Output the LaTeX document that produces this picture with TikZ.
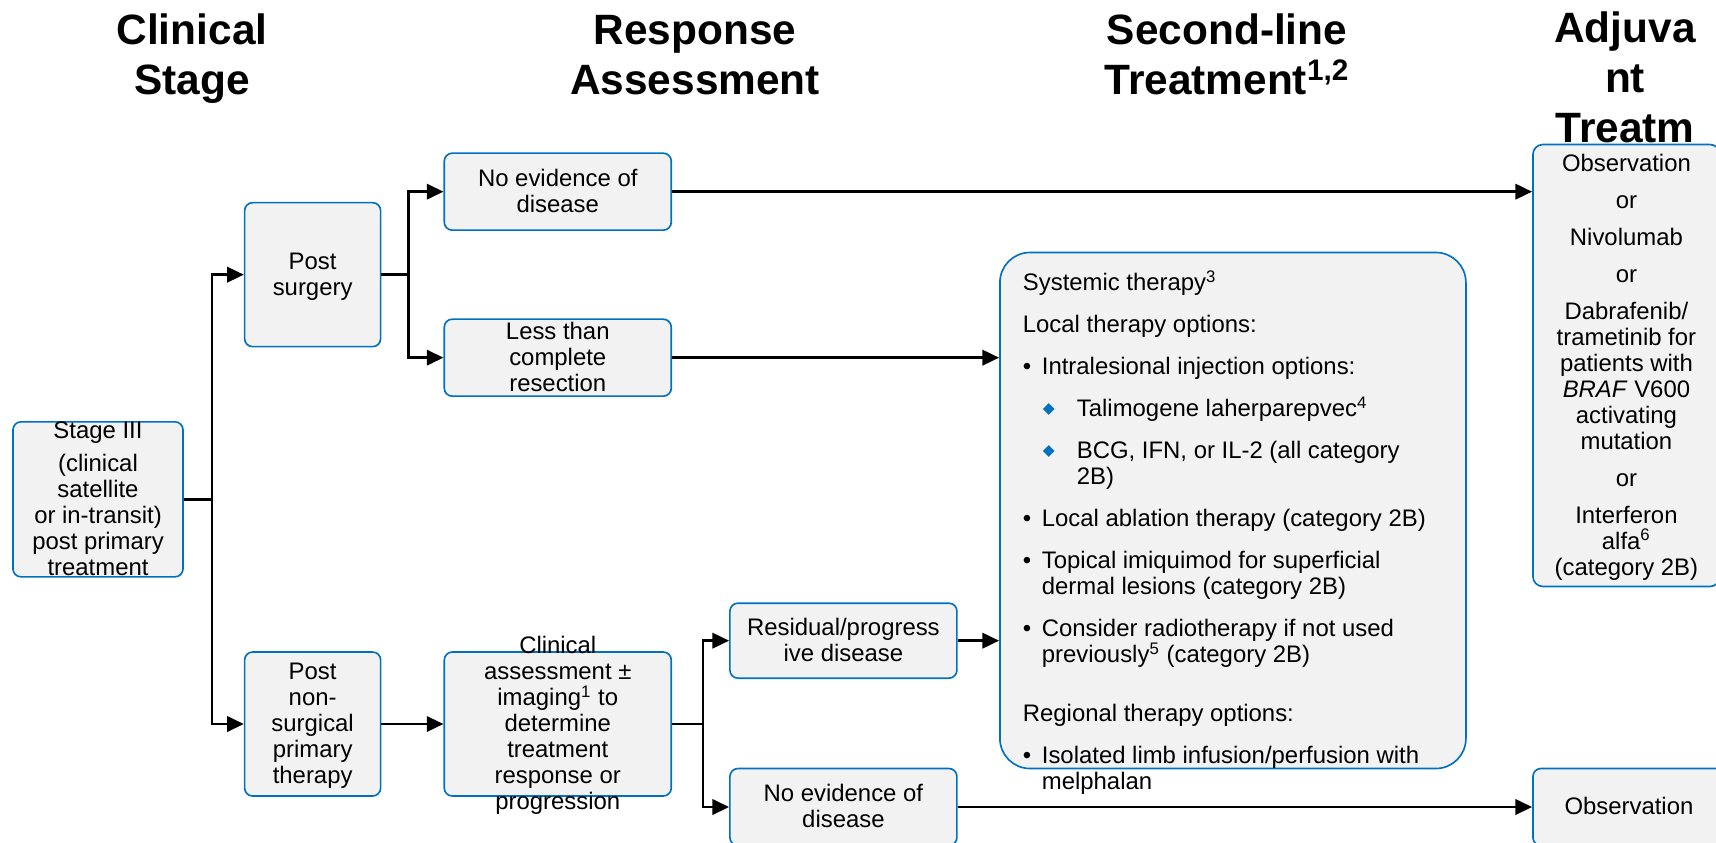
\documentclass[tikz,border=0pt]{standalone}
\usepackage{fontspec}
\setmainfont{Liberation Sans}
\newfontfamily\symfont{DejaVu Sans}
\usepackage{xcolor}
\usepackage{tikz}
\usetikzlibrary{arrows.meta,positioning}
\definecolor{boxblue}{RGB}{0,112,192}
\definecolor{boxgray}{RGB}{242,242,242}
\newcommand{\lns}[1]{\smash{\raisebox{-3.6pt}{\begin{tabular}{@{}c@{}}#1\end{tabular}}}}
\newcommand{\sups}[1]{\smash{\textsuperscript{#1}}}
\newcommand{\dmd}{\raisebox{1.2pt}{\textcolor{boxblue}{\symfont\fontsize{6.6}{7}\selectfont ◆}}}

\begin{document}
\begin{tikzpicture}[box/.style={draw=boxblue,line width=0.7pt,fill=boxgray,rounded corners=1.2mm,inner sep=0pt,font=\fontsize{10.2}{11.1}\selectfont},nbox/.style={box,minimum width=34.05mm,minimum height=11.55mm},tbox/.style={box,minimum width=20.4mm,minimum height=21.6mm},hdr/.style={align=center,font=\fontsize{18.1}{21.3}\selectfont\bfseries},arr/.style={line width=1.1pt,-{Triangle[length=2.5mm,width=2.3mm]}}]
\useasboundingbox (0,0) rectangle (257.4mm,-126.3mm);
\clip (0,0) rectangle (257.4mm,-126.3mm);
% column headings
\node[hdr] (hd1) at (28.8mm,-8.85mm) {Clinical\\Stage};
\node[hdr] (hd2) at (104.25mm,-8.2mm) {Response\\Assessment};
\node[hdr] (hd3) at (184.05mm,-8.2mm) {Second-line\\Treatment\textsuperscript{1,2}};
\node[hdr] (hd4) at (243.75mm,-11.65mm) {Adjuva\\nt\\Treatm};
% boxes
\node[box,minimum width=25.5mm,minimum height=23.25mm] (stg) at (14.7mm,-74.9mm) {\lns{Stage III\\[1mm](clinical\\satellite\\or in-transit)\\post primary\\treatment}};
\node[tbox,right=9mm of stg,yshift=33.7mm] (ps) {\lns{Post\\surgery}};
\node[tbox,right=9mm of stg,yshift=-33.7mm] (pns) {\lns{Post\\non-\\surgical\\primary\\therapy}};
\node[nbox,right=9.3mm of ps,yshift=12.45mm] (nedA) {\lns{No evidence of\\disease}};
\node[nbox,right=9.3mm of ps,yshift=-12.45mm] (ltc) {\lns{Less than\\complete\\resection}};
\node[nbox,minimum height=21.6mm,right=9.3mm of pns] (ca) {\lns{Clinical\\assessment ±\\imaging\sups{1} to\\determine\\treatment\\response or\\progression}};
\node[nbox,minimum height=11.25mm,right=8.55mm of ca,yshift=12.5mm] (rpd) {\lns{Residual/progress\\ive disease}};
\node[nbox,right=8.55mm of ca,yshift=-12.45mm] (nedB) {\lns{No evidence of\\disease}};
\node[box,rounded corners=4.5mm,minimum width=69.9mm,minimum height=77.4mm,right=49.05mm of ltc,anchor=north west,yshift=15.9mm] (slt) {};
\node[anchor=base west,inner sep=0pt,font=\fontsize{10.2}{11.1}\selectfont] (sltx) at ([xshift=3.5mm,yshift=-5.85mm]slt.north west) {\begin{tabular}[t]{@{}l@{}}
Systemic therapy\sups{3}\\[2.4mm]
Local therapy options:\\[2.4mm]
\makebox[2.85mm][l]{•}Intralesional injection options:\\[2.4mm]
\hspace*{3mm}\makebox[5.1mm][l]{\dmd}Talimogene laherparepvec\sups{4}\\[2.4mm]
\hspace*{3mm}\makebox[5.1mm][l]{\dmd}BCG, IFN, or IL-2 (all category\\
\hspace*{8.1mm}2B)\\[2.4mm]
\makebox[2.85mm][l]{•}Local ablation therapy (category 2B)\\[2.4mm]
\makebox[2.85mm][l]{•}Topical imiquimod for superficial\\
\hspace*{2.85mm}dermal lesions (category 2B)\\[2.4mm]
\makebox[2.85mm][l]{•}Consider radiotherapy if not used\\
\hspace*{2.85mm}previously\sups{5} (category 2B)\\[4.9mm]
Regional therapy options:\\[2.4mm]
\makebox[2.85mm][l]{•}Isolated limb infusion/perfusion with\\
\hspace*{2.85mm}melphalan
\end{tabular}};
\node[box,rounded corners=1.5mm,minimum width=28.05mm,minimum height=66.3mm,right=129mm of nedA,anchor=north west,yshift=7.2mm] (adj) {\lns{Observation\\[1.65mm]or\\[1.65mm]Nivolumab\\[1.65mm]or\\[1.65mm]Dabrafenib/\\trametinib for\\patients with\\\textit{BRAF} V600\\activating\\mutation\\[1.65mm]or\\[1.65mm]Interferon\\alfa\sups{6}\\(category 2B)}};
\node[box,minimum width=30mm,minimum height=11.55mm,anchor=west] (obs) at (nedB -| adj.west) {\hspace*{-1.2mm}\lns{Observation}};
% connectors
\draw[arr] (stg.east) -- ++(4.2mm,0) |- (ps.west);
\draw[arr] (stg.east) -- ++(4.2mm,0) |- (pns.west);
\draw[arr] (ps.east) -- ++(4.05mm,0) |- (nedA.west);
\draw[arr] (ps.east) -- ++(4.05mm,0) |- (ltc.west);
\draw[arr] (pns) -- (ca);
\draw[arr] (ca.east) -- ++(4.65mm,0) |- (rpd.west);
\draw[arr] (ca.east) -- ++(4.65mm,0) |- (nedB.west);
\draw[arr] (nedA) -- (nedA -| adj.west);
\draw[arr] (ltc) -- (ltc -| slt.west);
\draw[arr] (rpd) -- (rpd -| slt.west);
\draw[arr] (nedB) -- (obs);
\end{tikzpicture}
\end{document}
